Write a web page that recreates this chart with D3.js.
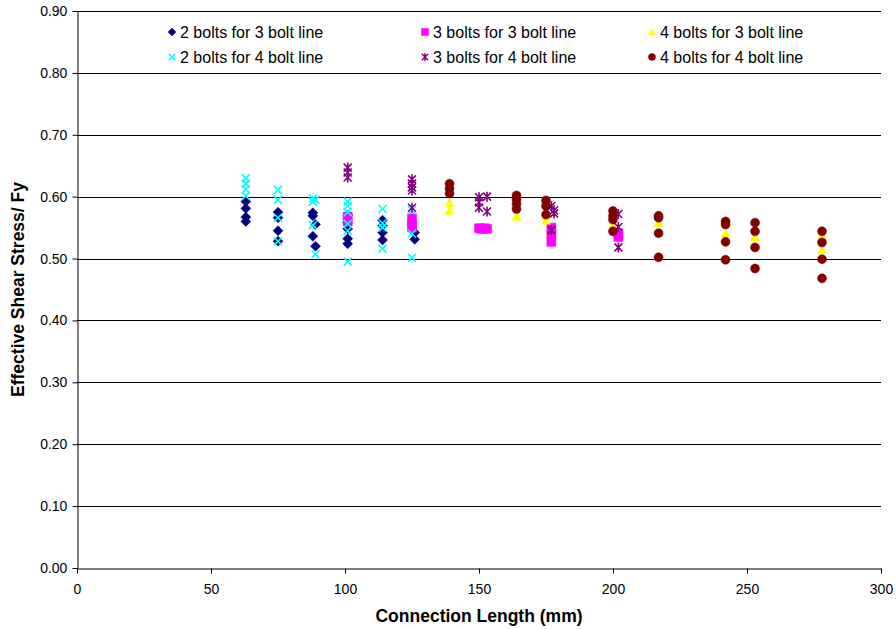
<!DOCTYPE html>
<html>
<head>
<meta charset="utf-8">
<script src="https://cdn.jsdelivr.net/npm/d3@7"></script>
<style>
 body{margin:0;background:#fff;}
 svg{font-family:"Liberation Sans",Arial,sans-serif;}
</style>
</head>
<body>
<svg id="chart" width="896" height="629"></svg>
<script>
// ---- data (connection length mm, effective shear stress / Fy) ----
const bolts2for3=[[63,0.592],[63,0.581],[63,0.567],[63,0.560],[75,0.575],[75,0.566],[75,0.545],[75,0.528],
 [88,0.574],[88,0.569],[88,0.536],[89,0.555],[89,0.520],[101,0.570],[101,0.558],[101,0.548],[101,0.532],[101,0.524],
 [114,0.562],[114,0.553],[114,0.542],[114,0.530],[126,0.542],[126,0.531]];
const bolts3for3=[[101,0.568],[101,0.560],[125,0.565],[125,0.557],[125,0.550],[150,0.549],[151,0.548],[152,0.549],[153,0.548],
 [177,0.550],[177,0.540],[177,0.527],[202,0.541],[202,0.535]];
const bolts4for3=[[139,0.590],[139,0.578],[164,0.568],[175,0.569],[175,0.562],[200,0.556],[217,0.558],[242,0.541],
 [253,0.535],[278,0.538],[278,0.514]];
const bolts2for4=[[63,0.630],[63,0.621],[63,0.612],[63,0.601],[75,0.611],[75,0.595],[75,0.566],[75,0.528],
 [88,0.597],[88,0.592],[88,0.554],[89,0.595],[89,0.507],[101,0.592],[101,0.585],[101,0.575],[101,0.556],[101,0.545],[101,0.495],
 [114,0.580],[114,0.557],[114,0.550],[114,0.516],[125,0.578],[125,0.540],[125,0.501]];
const bolts3for4=[[101,0.647],[101,0.639],[101,0.631],[125,0.628],[125,0.621],[125,0.615],[125,0.610],[125,0.582],
 [150,0.599],[150,0.591],[150,0.582],[153,0.600],[153,0.576],[177,0.585],[178,0.578],[178,0.573],[177,0.546],
 [202,0.572],[202,0.551],[202,0.518]];
const bolts4for4=[[139,0.621],[139,0.613],[139,0.605],[164,0.602],[164,0.595],[164,0.588],[164,0.580],
 [175,0.594],[175,0.585],[175,0.571],[200,0.577],[200,0.569],[200,0.563],[200,0.544],
 [217,0.569],[217,0.566],[217,0.541],[217,0.502],[242,0.560],[242,0.555],[242,0.527],[242,0.498],
 [253,0.558],[253,0.544],[253,0.518],[253,0.484],[278,0.544],[278,0.526],[278,0.499],[278,0.468]];

const xTicks=[0,50,100,150,200,250,300];
const yTicks=[0,0.1,0.2,0.3,0.4,0.5,0.6,0.7,0.8,0.9];

// marker shapes (centered at 0,0)
const shapes={
 diamond:"M0,-5L5,0L0,5L-5,0Z",
 square:"M-4.5,-4.5H4.5V4.5H-4.5Z",
 triangle:"M0,-4.5L4.5,4L-4.5,4Z",
 circle:"M-4.5,0A4.5,4.5 0 1,0 4.5,0A4.5,4.5 0 1,0 -4.5,0Z",
 x:"M-4,-4L4,4M-4,4L4,-4",
 star:"M-4,-4L4,4M-4,4L4,-4M0,-5L0,5"
};
const series=[
 {name:"2 bolts for 3 bolt line",data:bolts2for3,shape:"diamond",color:"#000080",fill:true},
 {name:"3 bolts for 3 bolt line",data:bolts3for3,shape:"square",color:"#FF00FF",fill:true},
 {name:"4 bolts for 3 bolt line",data:bolts4for3,shape:"triangle",color:"#FFFF00",fill:true},
 {name:"2 bolts for 4 bolt line",data:bolts2for4,shape:"x",color:"#00FFFF",fill:false},
 {name:"3 bolts for 4 bolt line",data:bolts3for4,shape:"star",color:"#800080",fill:false},
 {name:"4 bolts for 4 bolt line",data:bolts4for4,shape:"circle",color:"#800000",fill:true}
];

const svg=d3.select("#chart");
const m={l:77,r:15,t:11,b:61};
const W=896,H=629;

const x=d3.scaleLinear().domain([0,300]).range([m.l,W-m.r]);
const y=d3.scaleLinear().domain([0,0.9]).range([H-m.b,m.t]);

// gridlines
svg.append("g").selectAll("line")
 .data(yTicks.filter(d=>d>0)).enter().append("line")
 .attr("x1",x(0)).attr("x2",x(300))
 .attr("y1",d=>Math.round(y(d))+0.5).attr("y2",d=>Math.round(y(d))+0.5)
 .attr("stroke","#000").attr("stroke-width",1);

// axes
const xa=svg.append("g").attr("transform",`translate(0,${Math.round(y(0))+0.5})`)
 .call(d3.axisBottom(x).tickValues(xTicks).tickSize(5).tickSizeOuter(0).tickFormat(d3.format("d")));
const ya=svg.append("g").attr("transform",`translate(${Math.round(x(0))+0.5},0)`)
 .call(d3.axisLeft(y).tickValues(yTicks).tickSize(5).tickSizeOuter(0).tickFormat(d3.format(".2f")));
[xa,ya].forEach(g=>{
 g.select(".domain").attr("stroke","#000");
 g.selectAll(".tick line").attr("stroke","#000");
 g.selectAll("text").attr("font-size",14).attr("fill","#000").attr("font-family","Liberation Sans,Arial,sans-serif");
});
xa.selectAll("text").attr("dy","1.25em");
ya.selectAll("text").attr("dx","-0.15em");

// titles
svg.append("text").attr("x",(x(0)+x(300))/2).attr("y",622)
 .attr("text-anchor","middle").attr("font-size",17.5).attr("font-weight","bold")
 .text("Connection Length (mm)");
svg.append("text").attr("transform",`translate(24,${(y(0)+y(0.9))/2}) rotate(-90)`)
 .attr("text-anchor","middle").attr("font-size",17.5).attr("font-weight","bold")
 .text("Effective Shear Stress/ Fy");

// points
series.forEach(s=>{
 svg.append("g").selectAll("path")
  .data(s.data).enter().append("path")
  .attr("transform",d=>`translate(${x(d[0])},${y(d[1])})`)
  .attr("d",shapes[s.shape])
  .attr("fill",s.fill?s.color:"none")
  .attr("stroke",s.color)
  .attr("stroke-width",s.fill?0.5:1.6);
});

// legend
const legCols=[172,425,652], legRows=[32,57];
series.forEach((s,i)=>{
 const lx=legCols[i%3], ly=legRows[Math.floor(i/3)];
 const g=svg.append("g").attr("transform",`translate(${lx},${ly})`);
 g.append("path").attr("d",shapes[s.shape])
  .attr("transform","scale(0.8)")
  .attr("fill",s.fill?s.color:"none").attr("stroke",s.color)
  .attr("stroke-width",s.fill?0.5:1.8);
 g.append("text").attr("x",8).attr("y",5.5).attr("font-size",16).attr("fill","#000").text(s.name);
});
</script>
</body>
</html>
